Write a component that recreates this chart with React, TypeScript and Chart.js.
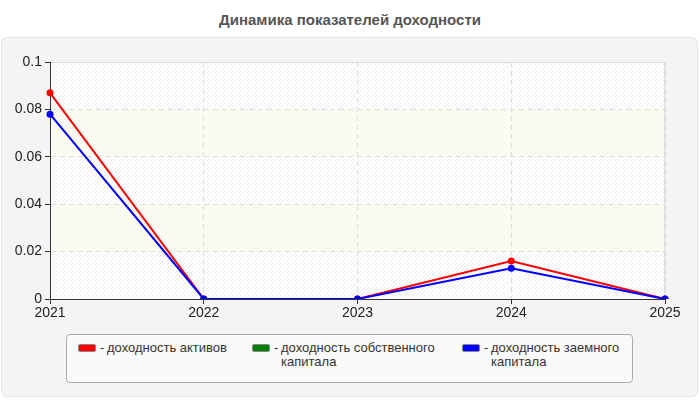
import { useEffect, useRef } from 'react';
import { Chart, registerables } from 'chart.js';

Chart.register(...registerables);

const years = ['2021', '2022', '2023', '2024', '2025'];
const assetsReturn = [0.087, 0, 0, 0.016, 0];
const equityReturn: (number | null)[] = [null, null, null, null, null];
const debtReturn = [0.078, 0, 0, 0.013, 0];
const yTicks = [0, 0.02, 0.04, 0.06, 0.08, 0.1];
const tintedBands = [
  [0.02, 0.04],
  [0.06, 0.08],
];

const series = [
  { label: 'доходность активов', data: assetsReturn, color: '#ff0000', order: 1, left: 11, textWidth: 140 },
  { label: 'доходность собственного капитала', data: equityReturn, color: '#008000', order: 2, left: 185, textWidth: 165 },
  { label: 'доходность заемного капитала', data: debtReturn, color: '#0000ff', order: 0, left: 395, textWidth: 140 },
];

const makeHatch = (base: string, line: string) => {
  const c = document.createElement('canvas');
  c.width = 4;
  c.height = 4;
  const g = c.getContext('2d')!;
  g.fillStyle = base;
  g.fillRect(0, 0, 4, 4);
  g.strokeStyle = line;
  g.lineWidth = 1;
  g.beginPath();
  g.moveTo(0, 4);
  g.lineTo(4, 0);
  g.moveTo(-1, 1);
  g.lineTo(1, -1);
  g.moveTo(3, 5);
  g.lineTo(5, 3);
  g.stroke();
  return g.createPattern(c, 'repeat')!;
};

const plotBackground = {
  id: 'plotBackground',
  beforeDraw(chart: any) {
    const { ctx, chartArea, scales } = chart;
    const { left, top, width, height, right } = chartArea;
    ctx.save();
    ctx.fillStyle = makeHatch('#ffffff', '#ececec');
    ctx.fillRect(left, top, width, height);
    ctx.fillStyle = makeHatch('#fdfdf5', '#f3f3e8');
    tintedBands.forEach(([a, b]) => {
      const y1 = scales.y.getPixelForValue(b);
      const y2 = scales.y.getPixelForValue(a);
      ctx.fillRect(left, y1, width, y2 - y1);
    });
    ctx.strokeStyle = '#dddddd';
    ctx.lineWidth = 1;
    ctx.strokeRect(left + 0.5, top + 0.5, right - left - 1, height);
    ctx.restore();
  },
};

const App = () => {
  const chartRef = useRef<HTMLCanvasElement | null>(null);
  const chartInstance = useRef<Chart | null>(null);

  useEffect(() => {
    document.body.style.margin = '0';
    if (!chartRef.current) return;
    if (chartInstance.current) chartInstance.current.destroy();

    chartInstance.current = new Chart(chartRef.current, {
      type: 'line',
      data: {
        labels: years,
        datasets: series.map((s) => ({
          label: s.label,
          data: s.data,
          borderColor: s.color,
          backgroundColor: s.color,
          borderWidth: 2,
          pointRadius: 3.5,
          pointBorderWidth: 0,
          tension: 0,
          order: s.order,
        })),
      },
      options: {
        responsive: false,
        animation: false,
        layout: { padding: { left: 0, right: 35, top: 62, bottom: 0 } },
        plugins: {
          legend: { display: false },
          tooltip: { enabled: false },
        },
        scales: {
          x: {
            offset: false,
            grid: {
              color: '#dddddd',
              tickColor: '#333333',
              tickBorderDash: [],
              tickLength: 5,
            },
            border: { color: '#333333', width: 1, dash: [5, 4] },
            ticks: {
              color: '#222222',
              font: { family: 'Liberation Sans, Arial', size: 14 },
              padding: 1,
              maxRotation: 0,
            },
            afterFit: (scale: any) => {
              scale.height = 101;
            },
          },
          y: {
            min: 0,
            max: 0.1,
            afterBuildTicks: (scale: any) => {
              scale.ticks = yTicks.map((v) => ({ value: v }));
            },
            grid: {
              color: (ctx: any) => (ctx.tick && ctx.tick.value === 0.1 ? 'rgba(0,0,0,0)' : '#dddddd'),
              tickColor: '#333333',
              tickBorderDash: [],
              tickLength: 5,
            },
            border: { color: '#333333', width: 1, dash: [5, 4] },
            ticks: {
              color: '#222222',
              font: { family: 'Liberation Sans, Arial', size: 14 },
              padding: 3,
              callback: (v: any) => String(Number(v)),
            },
            afterFit: (scale: any) => {
              scale.width = 50;
            },
          },
        },
      },
      plugins: [plotBackground],
    });
    return () => {
      chartInstance.current?.destroy();
    };
  }, []);

  return (
    <div style={{ position: 'relative', width: 700, height: 400, background: '#fff', fontFamily: 'Liberation Sans, Arial, sans-serif' }}>
      <div
        style={{
          position: 'absolute',
          top: 11,
          left: 0,
          width: 700,
          textAlign: 'center',
          fontSize: 15,
          fontWeight: 'bold',
          color: '#555',
        }}
      >
        Динамика показателей доходности
      </div>
      <div
        style={{
          position: 'absolute',
          left: 1,
          top: 37,
          width: 695,
          height: 358,
          background: '#f4f4f4',
          border: '1px solid #e4e4e4',
          borderRadius: 6,
        }}
      />
      <canvas ref={chartRef} width={700} height={400} style={{ position: 'absolute', left: 0, top: 0 }} />
      <div
        style={{
          position: 'absolute',
          left: 66,
          top: 334,
          width: 565,
          height: 47,
          background: '#fafafa',
          border: '1px solid #aaaaaa',
          borderRadius: 4,
        }}
      >
        {series.map((s) => (
          <div key={s.label} style={{ position: 'absolute', left: s.left, top: 0, fontSize: 13, lineHeight: '14px', color: '#333' }}>
            <span
              style={{
                position: 'absolute',
                left: 0,
                top: 9,
                width: 16,
                height: 6,
                background: s.color,
                border: '1px solid #888',
                borderRadius: 2,
              }}
            />
            <span style={{ position: 'absolute', left: 22, top: 6 }}>-</span>
            <span style={{ position: 'absolute', left: 29, top: 6, width: s.textWidth }}>{s.label}</span>
          </div>
        ))}
      </div>
    </div>
  );
};

export default App;
